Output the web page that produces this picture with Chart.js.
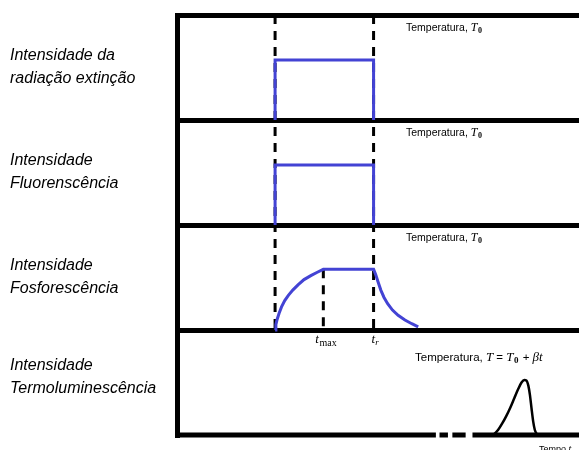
<!DOCTYPE html>
<html>
<head>
<meta charset="utf-8">
<script src="https://cdn.jsdelivr.net/npm/chart.js@4/dist/chart.umd.min.js"></script>
<style>
  body { margin: 0; background: #fff; }
  canvas { display: block; }
</style>
</head>
<body>
<canvas id="diagram" width="579" height="450"></canvas>
<script>
// eixo do tempo (unidades arbitrárias, 0 = início da excitação)
const timeRange = [-24.4, 75.6];
const tOn = 0;
const tMaxValue = 12;
const tOff = 24.5;

// intensidade em cada painel (0..1 dentro do painel)
const extinctionX = [0, 0, 24.5, 24.5];
const extinctionY = [0, 0.571, 0.571, 0];

const fluorX = [0, 0, 24.5, 24.5];
const fluorY = [0, 0.571, 0.571, 0];

const phosX = [0, 0.2, 0.5, 1, 1.6, 2.4, 3.3, 4.4, 5.7, 7.2, 9, 10.5, 12, 24.5,
               25.0, 25.6, 26.3, 27.1, 28.0, 29.2, 30.6, 32.3, 34.0, 35.6];
const phosY = [0, 0.05, 0.1, 0.16, 0.22, 0.28, 0.33, 0.38, 0.43, 0.48, 0.52, 0.55, 0.578, 0.578,
               0.53, 0.46, 0.38, 0.31, 0.25, 0.19, 0.14, 0.095, 0.06, 0.03];

const tlX = [53.5, 54.5, 55.5, 56.5, 57.5, 58.5, 59.5, 60.5, 61.3, 62.0, 62.5, 63.0, 63.4, 63.8, 64.2, 64.6, 65.0, 65.5];
const tlY = [0, 0.01, 0.05, 0.11, 0.18, 0.26, 0.35, 0.44, 0.5, 0.525, 0.52, 0.47, 0.38, 0.25, 0.13, 0.05, 0.015, 0];

// trechos da linha de base inferior (eixo interrompido)
const baseSegments = [[-24.4, 40.0], [40.9, 43.0], [44.1, 47.4], [49.1, 75.6]];

const panelLabels = [
  ['Intensidade da', 'radiação extinção'],
  ['Intensidade', 'Fluorenscência'],
  ['Intensidade', 'Fosforescência'],
  ['Intensidade', 'Termoluminescência']
];

const BLUE = '#4343d4';

// painel k (0 = topo) ocupa y de 3-k a 4-k
function toPoints(xs, ys, panel) {
  return xs.map((x, i) => ({ x: x, y: ys[i] + (3 - panel) }));
}

function curve(data, color, width) {
  return { data: data, borderColor: color, borderWidth: width, showLine: true,
           pointRadius: 0, tension: 0, clip: false };
}

function dashed(x, yTop, yBottom) {
  return { data: [{ x: x, y: yTop }, { x: x, y: yBottom }], borderColor: '#000', borderWidth: 3,
           borderDash: [9, 7], showLine: true, pointRadius: 0, clip: false, order: 2 };
}

const datasets = [
  curve(toPoints(extinctionX, extinctionY, 0), BLUE, 3),
  curve(toPoints(fluorX, fluorY, 1), BLUE, 3),
  curve(toPoints(phosX, phosY, 2), BLUE, 3),
  Object.assign(curve(toPoints(tlX, tlY, 3), '#000', 2.5), { cubicInterpolationMode: 'monotone' }),
  dashed(tOn, 4, 1),
  dashed(tOff, 4, 1),
  dashed(tMaxValue, 1 + 0.578, 1)
];
baseSegments.forEach(s => datasets.push(curve([{ x: s[0], y: 0 }, { x: s[1], y: 0 }], '#000', 5)));

// textos do diagrama
function drawRuns(ctx, x, y, runs) {
  let cx = x;
  runs.forEach(r => {
    ctx.font = r.font;
    ctx.fillText(r.text, cx, y + (r.dy || 0));
    cx += ctx.measureText(r.text).width + (r.gap || 0);
  });
}

const textPlugin = {
  id: 'texts',
  afterDraw(chart) {
    const ctx = chart.ctx;
    const xs = chart.scales.x, ys = chart.scales.y;
    const sans = "'Liberation Sans', Arial, sans-serif";
    const serif = "'Liberation Serif', 'Times New Roman', serif";
    ctx.save();
    ctx.fillStyle = '#000';
    ctx.textBaseline = 'alphabetic';
    ctx.textAlign = 'left';

    // rótulos à esquerda
    panelLabels.forEach((lines, k) => {
      const top = ys.getPixelForValue(4 - k);
      const off = k === 3 ? -5 : 0;
      ctx.font = 'italic 16px ' + sans;
      ctx.fillText(lines[0], 10, top + 45 + off);
      ctx.fillText(lines[1], 10, top + 68 + off);
    });

    // Temperatura, T0
    for (let k = 0; k < 3; k++) {
      const top = ys.getPixelForValue(4 - k);
      drawRuns(ctx, 406, top + 16, [
        { text: 'Temperatura, ', font: '10.5px ' + sans },
        { text: 'T', font: 'italic 12px ' + serif, gap: 0.5 },
        { text: '0', font: 'bold 8px ' + serif, dy: 2 }
      ]);
    }
    const top4 = ys.getPixelForValue(1);
    drawRuns(ctx, 415, top4 + 31, [
      { text: 'Temperatura, ', font: '11.5px ' + sans },
      { text: 'T', font: 'italic 13px ' + serif },
      { text: ' = ', font: '11.5px ' + sans },
      { text: 'T', font: 'italic 13px ' + serif, gap: 0.5 },
      { text: '0', font: 'bold 9px ' + serif, dy: 2, gap: 1 },
      { text: ' + ', font: '11.5px ' + sans },
      { text: 'βt', font: 'italic 13px ' + serif }
    ]);

    // marcas no eixo do tempo
    const yAxis = ys.getPixelForValue(1);
    drawRuns(ctx, xs.getPixelForValue(tMaxValue) - 8, yAxis + 13, [
      { text: 't', font: 'italic 13px ' + serif, gap: 0.5 },
      { text: 'max', font: '10px ' + serif, dy: 3 }
    ]);
    drawRuns(ctx, xs.getPixelForValue(tOff) - 2, yAxis + 13, [
      { text: 't', font: 'italic 13px ' + serif },
      { text: 'r', font: 'italic 9px ' + serif, dy: 2 }
    ]);

    drawRuns(ctx, 539, 452, [
      { text: 'Tempo ', font: '9px ' + sans },
      { text: 't', font: 'italic 10px ' + serif }
    ]);
    ctx.restore();
  }
};

new Chart(document.getElementById('diagram'), {
  type: 'scatter',
  data: { datasets: datasets },
  options: {
    responsive: false,
    animation: false,
    events: [],
    layout: { padding: { left: 177, top: 15, right: 0, bottom: 15 } },
    plugins: { legend: { display: false }, tooltip: { enabled: false } },
    scales: {
      x: {
        type: 'linear', min: timeRange[0], max: timeRange[1],
        display: false
      },
      y: {
        type: 'linear', min: 0, max: 4,
        ticks: { display: false, stepSize: 1 },
        grid: {
          drawTicks: false,
          lineWidth: 5,
          color: c => (c.tick && c.tick.value === 0) ? 'rgba(0,0,0,0)' : '#000'
        },
        border: { display: true, color: '#000', width: 5 }
      }
    }
  },
  plugins: [textPlugin]
});
</script>
</body>
</html>
